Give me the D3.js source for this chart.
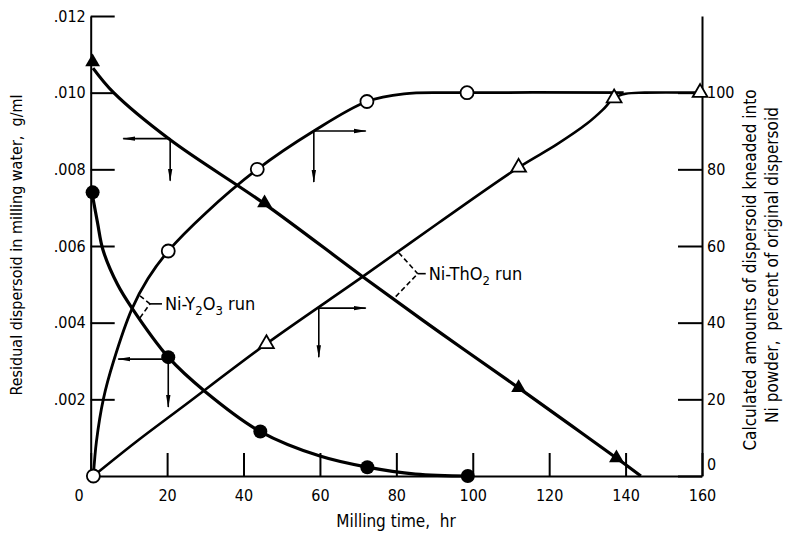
<!DOCTYPE html>
<html>
<head>
<meta charset="utf-8">
<script src="https://cdn.jsdelivr.net/npm/d3@7/dist/d3.min.js"></script>
<style>
  body { margin: 0; background: #fff; }
  svg { font-family: "Liberation Sans Narrow", "DejaVu Sans Condensed", "Roboto Condensed", sans-serif; }
</style>
</head>
<body>
<div id="okvir"></div>
<script>
// measured points (milling time, hr)
const y2o3ResidualHr  = [0.5, 20.3, 44.4, 72.4, 98.7];
const y2o3ResidualVal = [0.0074, 0.0031, 0.00116, 0.00023, 0];          // g/ml, filled circles
const y2o3KneadedHr   = [0.7, 20.3, 43.6, 72.3, 98.5];
const y2o3KneadedPct  = [0, 58.7, 80, 97.7, 100];                        // %, open circles
const tho2ResidualHr  = [0.5, 45.5, 112, 137.6];
const tho2ResidualVal = [0.0108, 0.00712, 0.0023, 0.00047];              // g/ml, filled triangles
const tho2KneadedHr   = [46, 112, 137, 159.5];
const tho2KneadedPct  = [34.5, 80.5, 98.6, 100];                         // %, open triangles

// faired curves
const y2o3ResidualCurve = [[0.5,0.0073],[1.8,0.0066],[3.2,0.0059],[7,0.0050],[10.8,0.00438],[20.3,0.0031],[30,0.0022],[44.4,0.00116],[60,0.00052],[72.4,0.00023],[85,0.00005],[99,0]];
const y2o3KneadedCurve  = [[0.7,0],[1.5,9],[3.3,20],[6,30],[10.8,43.6],[15,51.5],[20.3,58.7],[30,68.5],[43.6,80],[58.4,90],[72.3,97.7],[82,99.7],[95,100],[139.5,100]];
const tho2ResidualCurve = [[0.6,0.01064],[6,0.0100],[20.8,0.00877],[45.5,0.0071],[71.2,0.0052],[92,0.0037],[112,0.0023],[126,0.0013],[137.6,0.00047],[144,0]];
const tho2KneadedCurve  = [[0.7,0],[12,9],[24,18],[46,34.5],[71.2,52],[91,66],[112,80.5],[122,86.5],[130,92],[134,95.5],[137,98.6],[140,99.7],[145,100],[160,100]];

// ticks
const xTicks = [0, 20, 40, 60, 80, 100, 120, 140, 160];
const leftTicks = [0.002, 0.004, 0.006, 0.008, 0.010, 0.012];
const rightTicks = [0, 20, 40, 60, 80, 100];

// arrow keys (hr, g/ml) : origin, horizontal end, vertical end
const arrowKeys = [
  { hr: 20.8, v: 0.0088,  toHr: 8.5, toV: 0.0077 },
  { hr: 58.4, v: 0.0090,  toHr: 72,  toV: 0.00767 },
  { hr: 20.3, v: 0.00305, toHr: 7.2, toV: 0.0018 },
  { hr: 59.7, v: 0.00438, toHr: 72,  toV: 0.0031 }
];

const dim = { width: 797, height: 533 };

const svg = d3.select("#okvir").append("svg")
  .attr("width", dim.width)
  .attr("height", dim.height);

const x = d3.scaleLinear().domain([0, 160]).range([90.7, 702]);
const yL = d3.scaleLinear().domain([0, 0.012]).range([476, 16]);
const yR = d3.scaleLinear().domain([0, 120]).range([476, 16]);

const defs = svg.append("defs");
defs.append("marker")
  .attr("id", "strelica")
  .attr("viewBox", "0 0 13 6")
  .attr("refX", 12).attr("refY", 3)
  .attr("markerWidth", 13).attr("markerHeight", 6)
  .attr("markerUnits", "userSpaceOnUse")
  .attr("orient", "auto")
  .append("path").attr("d", "M0,0.8 L13,3 L0,5.2 Z").attr("fill", "#000");

// axes
function stilOs(g) {
  g.attr("font-size", 16).attr("font-family", null);
  g.selectAll("path, line").attr("stroke", "#000").attr("stroke-width", 2);
  g.selectAll("text").attr("fill", "#000");
}

const xOs = svg.append("g")
  .attr("transform", `translate(0,${yL(0)})`)
  .call(d3.axisBottom(x).tickValues(xTicks).tickSizeInner(-23).tickSizeOuter(0).tickPadding(14))
  .call(stilOs);
xOs.selectAll(".tick text").filter(d => d === 0).attr("dx", -12);

svg.append("g")
  .attr("transform", `translate(${x(0)},0)`)
  .call(d3.axisLeft(yL).tickValues(leftTicks).tickSizeInner(-24).tickSizeOuter(0).tickPadding(5)
    .tickFormat(d => d3.format(".3f")(d).replace(/^0/, "")))
  .call(stilOs);

const rOs = svg.append("g")
  .attr("transform", `translate(${x(160)},0)`)
  .call(d3.axisRight(yR).tickValues(rightTicks).tickSizeInner(-24).tickSizeOuter(0).tickPadding(5))
  .call(stilOs);
rOs.selectAll(".tick text").filter(d => d === 0).attr("dy", "-0.4em");

// axis titles
svg.append("text")
  .attr("transform", `translate(22,245) rotate(-90)`)
  .attr("text-anchor", "middle").attr("font-size", 16)
  .text("Residual dispersoid in milling water,\u00a0 g/ml");

svg.append("text")
  .attr("x", 396).attr("y", 527)
  .attr("text-anchor", "middle").attr("font-size", 17)
  .text("Milling time,\u00a0 hr");

const rNaslov = svg.append("text")
  .attr("transform", `translate(756,270) rotate(-90)`)
  .attr("text-anchor", "middle").attr("font-size", 17);
rNaslov.append("tspan").attr("x", 0).attr("dy", 0).text("Calculated amounts of dispersoid kneaded into");
rNaslov.append("tspan").attr("x", 5).attr("dy", 22).text("Ni powder,\u00a0 percent of original dispersoid");

// curves
const linijaL = d3.line().x(d => x(d[0])).y(d => yL(d[1])).curve(d3.curveCatmullRom.alpha(0.5));
const linijaR = d3.line().x(d => x(d[0])).y(d => yR(d[1])).curve(d3.curveCatmullRom.alpha(0.5));

const krivulje = svg.append("g").attr("fill", "none").attr("stroke", "#000").attr("stroke-linejoin", "round");
krivulje.append("path").attr("d", linijaL(y2o3ResidualCurve)).attr("stroke-width", 3.2);
krivulje.append("path").attr("d", linijaR(y2o3KneadedCurve)).attr("stroke-width", 2.8);
krivulje.append("path").attr("d", linijaL(tho2ResidualCurve)).attr("stroke-width", 3.2);
krivulje.append("path").attr("d", linijaR(tho2KneadedCurve)).attr("stroke-width", 2.6);

// markers
const tocke = svg.append("g");
tocke.selectAll(".fc").data(d3.zip(y2o3ResidualHr, y2o3ResidualVal)).join("circle")
  .attr("cx", d => x(d[0])).attr("cy", d => yL(d[1])).attr("r", 7).attr("fill", "#000");
tocke.selectAll(".oc").data(d3.zip(y2o3KneadedHr, y2o3KneadedPct)).join("circle")
  .attr("cx", d => x(d[0])).attr("cy", d => yR(d[1])).attr("r", 6.5)
  .attr("fill", "#fff").attr("stroke", "#000").attr("stroke-width", 1.8);
const trokut = d3.symbol(d3.symbolTriangle, 95);
tocke.selectAll(".ft").data(d3.zip(tho2ResidualHr, tho2ResidualVal)).join("path")
  .attr("d", trokut).attr("transform", d => `translate(${x(d[0])},${yL(d[1])})`).attr("fill", "#000");
tocke.selectAll(".ot").data(d3.zip(tho2KneadedHr, tho2KneadedPct)).join("path")
  .attr("d", trokut).attr("transform", d => `translate(${x(d[0])},${yR(d[1])})`)
  .attr("fill", "#fff").attr("stroke", "#000").attr("stroke-width", 1.8);

// axis arrows
const strelice = svg.append("g").attr("stroke", "#000").attr("stroke-width", 1.6);
arrowKeys.forEach(a => {
  strelice.append("line")
    .attr("x1", x(a.hr)).attr("y1", yL(a.v)).attr("x2", x(a.toHr)).attr("y2", yL(a.v))
    .attr("marker-end", "url(#strelica)");
  strelice.append("line")
    .attr("x1", x(a.hr)).attr("y1", yL(a.v)).attr("x2", x(a.hr)).attr("y2", yL(a.toV))
    .attr("marker-end", "url(#strelica)");
});

// run labels with dashed brackets
function oznaka(hr, v, kraci, duzi, tekst, sub1, sub2) {
  const px = x(hr), py = yL(v);
  const g = svg.append("g").attr("transform", `translate(${px},${py})`);
  const b = g.append("g").attr("stroke", "#000").attr("stroke-width", 1.6).attr("fill", "none");
  b.append("path").attr("d", `M${kraci[0]},${kraci[1]}L${kraci[4]},${kraci[5]}M${kraci[2]},${kraci[3]}L${kraci[4]},${kraci[5]}`)
    .attr("stroke-dasharray", "5,3");
  b.append("path").attr("d", `M${kraci[4]},${kraci[5]}h${duzi}`);
  const t = g.append("text").attr("x", kraci[4] + duzi + 3).attr("y", kraci[5] + 6).attr("font-size", 18);
  t.append("tspan").text(tekst[0]);
  t.append("tspan").attr("dy", 5).attr("font-size", 13).text(sub1);
  if (sub2) {
    t.append("tspan").attr("dy", -5).text(tekst[1]);
    t.append("tspan").attr("dy", 5).attr("font-size", 13).text(sub2);
    t.append("tspan").attr("dy", -5).text(tekst[2]);
  } else {
    t.append("tspan").attr("dy", -5).text(tekst[1]);
  }
}
oznaka(10.8, 0.00436, [8, -13, 8, 9, 18, -5], 12, ["Ni-Y", "O", " run"], "2", "3");
oznaka(71.2, 0.0052, [36, -24, 33, 20, 55, -3], 8, ["Ni-ThO", " run"], "2", null);
</script>
</body>
</html>
